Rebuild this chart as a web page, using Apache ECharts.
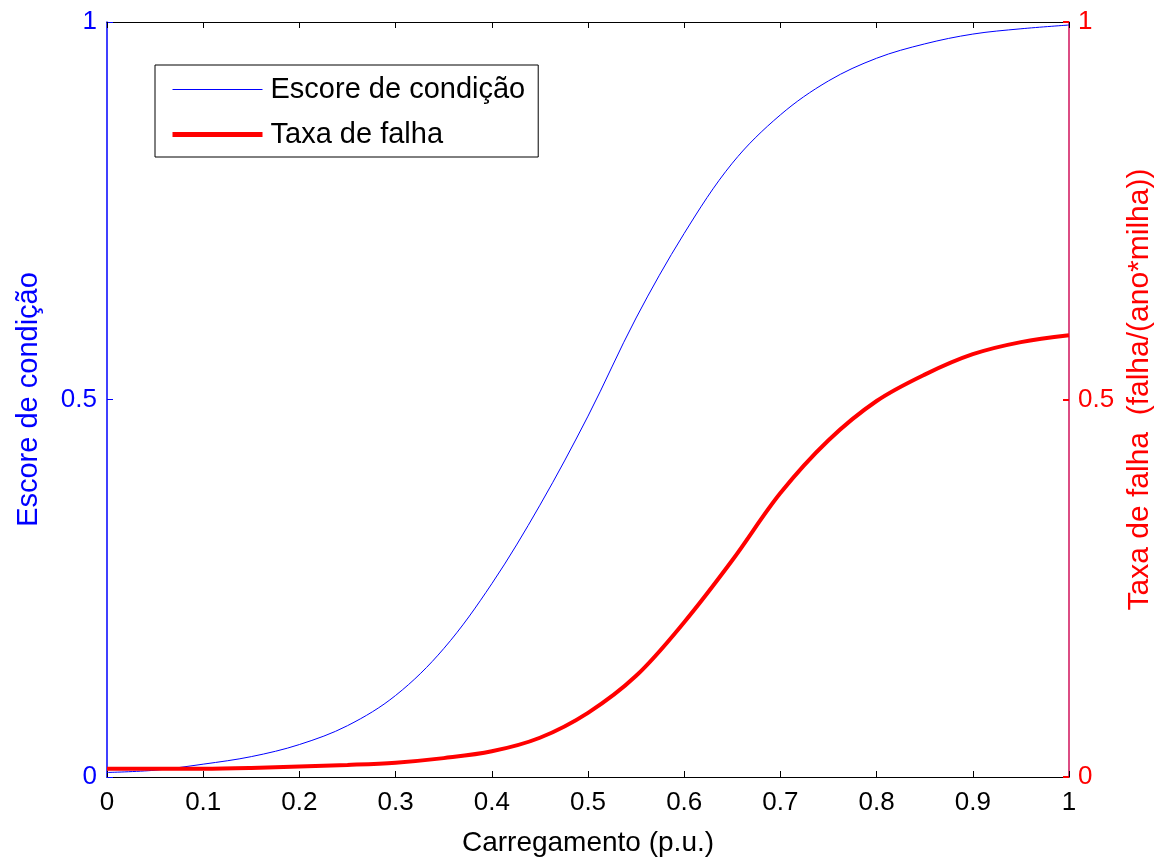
<!DOCTYPE html>
<html>
<head>
<meta charset="utf-8">
<script src="https://cdn.jsdelivr.net/npm/echarts@6/dist/echarts.min.js"></script>
<style>
  html, body { margin: 0; padding: 0; background: #fff; }
  #chart { width: 1166px; height: 860px; }
</style>
</head>
<body>
<div id="chart"></div>
<script>
// Loading (p.u.) sampled every 0.05
const carregamento = [0, 0.05, 0.1, 0.15, 0.2, 0.25, 0.3, 0.35, 0.4, 0.45, 0.5,
                      0.55, 0.6, 0.65, 0.7, 0.75, 0.8, 0.85, 0.9, 0.95, 1.0];
// Condition score (left axis)
const escore = [0.006, 0.009, 0.017, 0.027, 0.043, 0.068, 0.108, 0.170, 0.256, 0.360, 0.478,
                0.608, 0.720, 0.813, 0.877, 0.922, 0.952, 0.971, 0.984, 0.991, 0.996];
// Failure rate (right axis)
const taxa = [0.011, 0.011, 0.011, 0.012, 0.014, 0.016, 0.019, 0.025, 0.034, 0.052, 0.085,
              0.134, 0.205, 0.287, 0.376, 0.446, 0.498, 0.533, 0.560, 0.576, 0.585];
const xTicks = [0, 0.1, 0.2, 0.3, 0.4, 0.5, 0.6, 0.7, 0.8, 0.9, 1];
const yTicks = [0, 0.5, 1];

const FONT = 'Liberation Sans, Arial, Helvetica, sans-serif';
const pairs = ys => carregamento.map((x, i) => [x, ys[i]]);
const fmt = v => String(+v.toFixed(2));

const chart = echarts.init(document.getElementById('chart'), null, { renderer: 'canvas' });

const xCommon = {
  type: 'value', min: 0, max: 1, interval: 0.1,
  splitLine: { show: false },
  axisLine: { show: true, onZero: false, lineStyle: { color: '#000', width: 1 } },
  axisTick: { show: true, inside: true, length: 6, lineStyle: { color: '#000' } }
};

// hide the marker circle that line-series legend icons carry
const noMarker = { color: 'transparent', borderWidth: 0, opacity: 0 };

chart.setOption({
  animation: false,
  backgroundColor: '#fff',
  grid: { left: 107, right: 97, top: 22, bottom: 83, containLabel: false, outerBoundsMode: 'none' },
  legend: {
    orient: 'vertical',
    left: 155, top: 65,
    padding: [10, 13, 8, 15],
    itemGap: 16,
    itemWidth: 90, itemHeight: 14,
    backgroundColor: '#fff',
    borderColor: '#000', borderWidth: 1, borderRadius: 0,
    textStyle: { fontFamily: FONT, fontSize: 29, color: '#000', padding: [0, 0, 0, 3] },
    data: [
      { name: 'Escore de condição', itemStyle: noMarker, lineStyle: { width: 1, color: '#0000ff' } },
      { name: 'Taxa de falha', itemStyle: noMarker, lineStyle: { width: 5, color: '#ff0000' } }
    ]
  },
  xAxis: [
    Object.assign({}, xCommon, {
      position: 'bottom',
      name: 'Carregamento (p.u.)', nameLocation: 'middle', nameGap: 52,
      nameTextStyle: { fontFamily: FONT, fontSize: 28, color: '#000' },
      axisLabel: { fontFamily: FONT, fontSize: 26, color: '#000', margin: 13,
                   formatter: v => xTicks.some(t => Math.abs(t - v) < 1e-9) ? fmt(v) : '' }
    }),
    Object.assign({}, xCommon, { position: 'top', axisLabel: { show: false } })
  ],
  yAxis: [
    {
      type: 'value', position: 'left', min: 0, max: 1, interval: 0.5,
      name: 'Escore de condição', nameLocation: 'middle', nameGap: 64,
      nameTextStyle: { fontFamily: FONT, fontSize: 29, color: '#0000ff' },
      splitLine: { show: false },
      axisLine: { show: true, onZero: false, lineStyle: { color: '#0000ff', width: 1.5 } },
      axisTick: { show: true, inside: true, length: 6, lineStyle: { color: '#0000ff' } },
      axisLabel: { fontFamily: FONT, fontSize: 26, color: '#0000ff', margin: 10,
                   formatter: v => yTicks.includes(v) ? fmt(v) : '' }
    },
    {
      type: 'value', position: 'right', min: 0, max: 1, interval: 0.5,
      name: 'Taxa de falha  (falha/(ano*milha))', nameLocation: 'middle', nameGap: 56,
      nameTextStyle: { fontFamily: FONT, fontSize: 30, color: '#ff0000', padding: [0, 0, 0, 20] },
      splitLine: { show: false },
      axisLine: { show: true, onZero: false, lineStyle: { color: '#d0105a', width: 1.5 } },
      axisTick: { show: true, inside: true, length: 6, lineStyle: { color: '#ff0000', width: 2 } },
      axisLabel: { fontFamily: FONT, fontSize: 26, color: '#ff0000', margin: 9,
                   formatter: v => yTicks.includes(v) ? fmt(v) : '' }
    }
  ],
  series: [
    {
      name: 'Escore de condição', type: 'line', xAxisIndex: 0, yAxisIndex: 0,
      data: pairs(escore), symbol: 'none', smooth: 0.35,
      lineStyle: { color: '#0000ff', width: 1 }, itemStyle: { color: '#0000ff' }
    },
    {
      name: 'Taxa de falha', type: 'line', xAxisIndex: 0, yAxisIndex: 1,
      data: pairs(taxa), symbol: 'none', smooth: 0.35,
      lineStyle: { color: '#ff0000', width: 4 }, itemStyle: { color: '#ff0000' }
    }
  ]
});
</script>
</body>
</html>
